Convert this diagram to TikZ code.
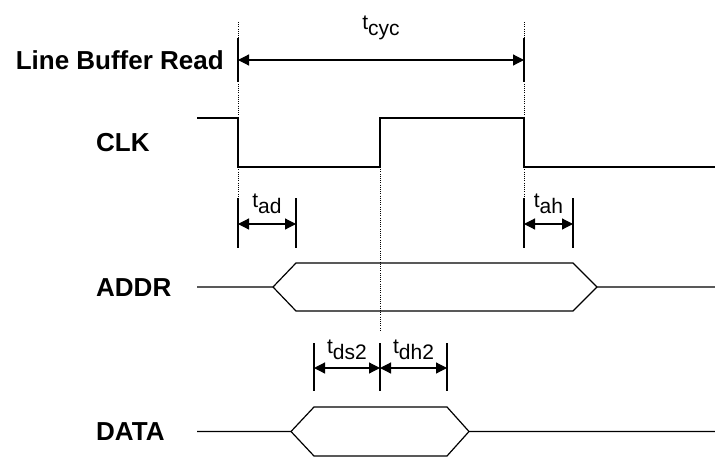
\documentclass[tikz,border=0pt]{standalone}
\usepackage{fontspec}
\setmainfont{Liberation Sans}
\usetikzlibrary{arrows.meta}

\newcommand{\tsub}[1]{t\raisebox{-6pt}{#1}}

\tikzset{
  sig/.style={line width=1.2pt},
  guide/.style={line width=1pt, dash pattern=on 1pt off 1.2pt},
  dimbar/.style={line width=1.2pt},
  dimarrow/.style={line width=1.2pt,
    {Triangle[length=11pt,width=11pt]}-{Triangle[length=11pt,width=11pt]}},
  signame/.style={anchor=west, inner sep=0pt,
    font=\fontsize{26}{30}\selectfont\bfseries},
  tlabel/.style={anchor=base, inner sep=0pt,
    font=\fontsize{21}{24}\selectfont},
}

\begin{document}
\begin{tikzpicture}[x=1pt, y=-1pt]
  \useasboundingbox (0,0) rectangle (715,458);

  % signal names
  \node[signame, anchor=east] (lbr) at (224,60) {Line Buffer Read};
  \node[signame] (clk) at (96,143) {CLK};
  \node[signame] (addr) at (96,288) {ADDR};
  \node[signame] (data) at (96,432) {DATA};

  % guide lines
  \draw[guide] (238,22) -- (238,198);
  \draw[guide] (524,22) -- (524,198);
  \draw[guide] (380,167) -- (380,332);

  % cycle time
  \draw[dimbar] (238,38) -- (238,82);
  \draw[dimbar] (524,38) -- (524,82);
  \coordinate (cyc1) at (238,60);
  \coordinate (cyc2) at (524,60);
  \draw[dimarrow] (cyc1) -- (cyc2);
  \node[tlabel] (tcyc) at (381,29) {\tsub{cyc}};

  % CLK
  \draw[sig] (197,118) -- (238,118) -- (238,167) -- (380,167) -- (380,118)
    -- (524,118) -- (524,167) -- (715,167);

  % address delay and hold
  \draw[dimbar] (238,198) -- (238,248);
  \draw[dimbar] (296,198) -- (296,248);
  \coordinate (ad1) at (238,224);
  \coordinate (ad2) at (296,224);
  \draw[dimarrow] (ad1) -- (ad2);
  \node[tlabel] (tad) at (267,207) {\tsub{ad}};

  \draw[dimbar] (524,198) -- (524,248);
  \draw[dimbar] (573,198) -- (573,248);
  \coordinate (ah1) at (524,224);
  \coordinate (ah2) at (573,224);
  \draw[dimarrow] (ah1) -- (ah2);
  \node[tlabel] (tah) at (548.5,207) {\tsub{ah}};

  % ADDR
  \draw[sig] (197,287) -- (273,287) -- (296,263) -- (573,263) -- (597,287)
    -- (715,287);
  \draw[sig] (273,287) -- (296,311) -- (573,311) -- (597,287);

  % data setup and hold
  \draw[dimbar] (314,343) -- (314,391);
  \draw[dimbar] (380,343) -- (380,391);
  \draw[dimbar] (447,343) -- (447,391);
  \coordinate (ds1) at (314,368);
  \coordinate (ds2) at (380,368);
  \coordinate (dh2) at (447,368);
  \draw[dimarrow] (ds1) -- (ds2);
  \draw[dimarrow] (ds2) -- (dh2);
  \node[tlabel] (tds) at (347,353) {\tsub{ds2}};
  \node[tlabel] (tdh) at (413.5,353) {\tsub{dh2}};

  % DATA
  \draw[sig] (197,431.5) -- (291,431.5) -- (314,407) -- (447,407)
    -- (469,431.5) -- (715,431.5);
  \draw[sig] (291,431.5) -- (314,456) -- (447,456) -- (469,431.5);
\end{tikzpicture}
\end{document}
